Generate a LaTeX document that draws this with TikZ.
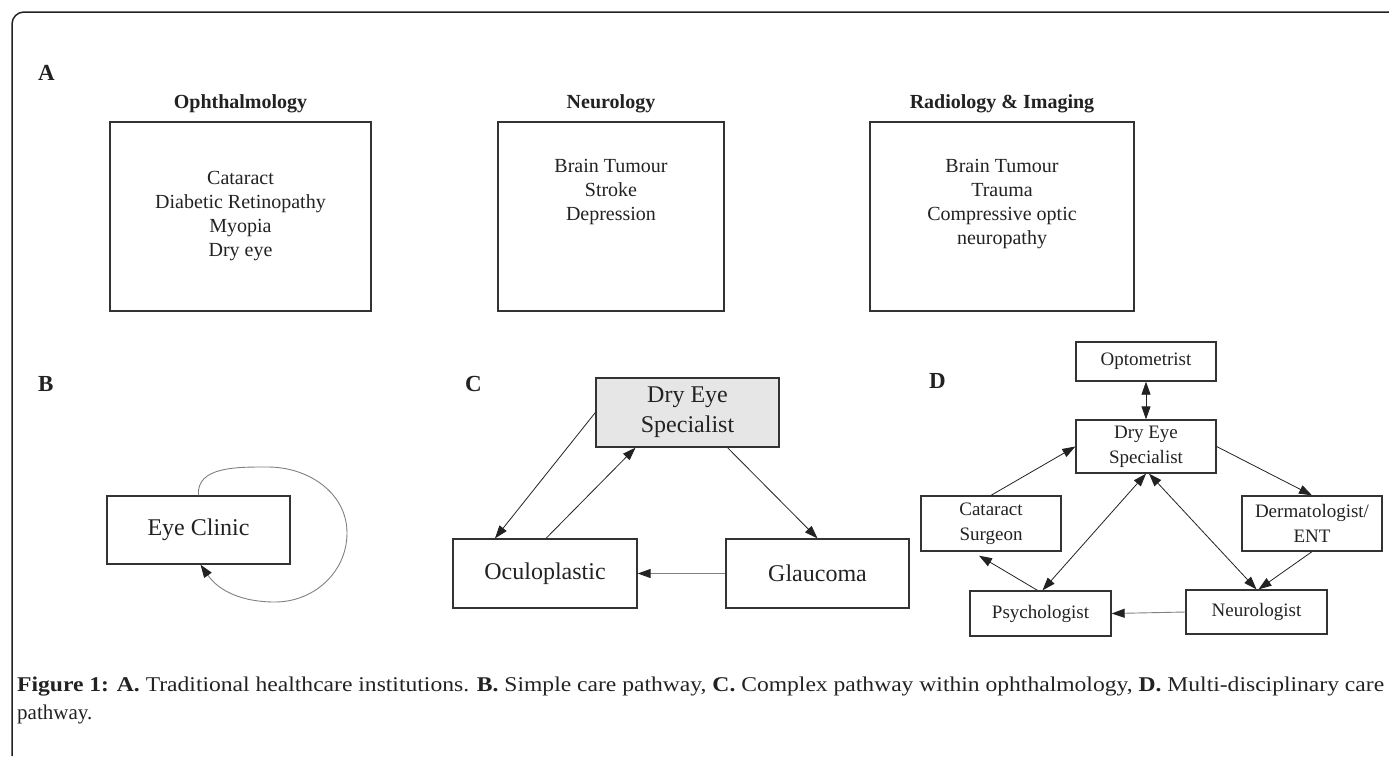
\documentclass[tikz,border=0pt]{standalone}
\usepackage{fontspec}
\setmainfont{Liberation Serif}
\usetikzlibrary{arrows.meta}
\definecolor{ink}{HTML}{222222}
\definecolor{boxline}{HTML}{333333}
\definecolor{desfill}{HTML}{E6E6E6}
\begin{document}
\begin{tikzpicture}[x=1pt,y=-1pt,
  every node/.style={text=ink},
  box/.style={draw=boxline,line width=1.3pt,inner sep=0pt,align=center},
  listtext/.style={align=center,inner sep=0pt,font=\fontsize{20}{24}\selectfont},
  heading/.style={inner sep=0pt,font=\fontsize{20}{24}\selectfont\bfseries},
  panel/.style={inner sep=0pt,font=\fontsize{23}{26}\selectfont\bfseries},
  ctext/.style={font=\fontsize{24}{30}\selectfont},
  dtext/.style={font=\fontsize{19}{25}\selectfont},
  tipA/.tip={Triangle[length=13pt,width=9pt,fill=ink,color=ink]},
  arr/.style={draw=ink,line width=0.8pt,-tipA},
  darr/.style={draw=ink,line width=0.8pt,tipA-tipA},
  garr/.style={draw=gray,line width=0.9pt,-tipA}
]
\useasboundingbox (0,0) rectangle (1389,756);
% outer frame
\draw[line width=1.5pt,draw=ink] (12,756) -- (12,24) to[out=90,in=180] (24,12) -- (1389,12);

% ---------------- Panel A
\node[panel,anchor=base west] (lA) at (38,80) {A};
\node[heading,anchor=base] (h1) at (240.5,108) {Ophthalmology};
\node[heading,anchor=base] (h2) at (611,108) {Neurology};
\node[heading,anchor=base] (h3) at (1002,108) {Radiology \& Imaging};
\node[box,minimum width=261pt,minimum height=189pt] (b1) at (240.5,216.5) {};
\node[box,minimum width=226pt,minimum height=189pt] (b2) at (611,216.5) {};
\node[box,minimum width=264pt,minimum height=189pt] (b3) at (1002,216.5) {};
\node[listtext,anchor=north] (t1) at (240.5,171) {Cataract\\Diabetic Retinopathy\\Myopia\\Dry eye};
\node[listtext,anchor=north] (t2) at (611,159) {Brain Tumour\\Stroke\\Depression};
\node[listtext,anchor=north] (t3) at (1002,159) {Brain Tumour\\Trauma\\Compressive optic\\neuropathy};

% ---------------- Panel B
\node[panel,anchor=base west] (lB) at (38,391) {B};
\node[box,ctext,minimum width=183pt,minimum height=68pt] (eye) at (198.5,530) {Eye Clinic};
\draw[garr]
  (eye.north) to[out=95,in=180] (268,467) to[out=0,in=90] (347,533)
  to[out=-90,in=0] (275,602) to[out=180,in=-55] ([xshift=2pt]eye.south);

% ---------------- Panel C
\node[panel,anchor=base west] (lC) at (465,391) {C};
\node[box,ctext,fill=desfill,minimum width=183pt,minimum height=69pt] (des) at (687.5,412.5) {Dry Eye\\Specialist};
\node[box,ctext,minimum width=184pt,minimum height=69pt] (ocu) at (545,573.5) {Oculoplastic};
\node[box,ctext,minimum width=183pt,minimum height=69pt] (gla) at (817.5,573.5) {Glaucoma};
\draw[arr] (des.west) -- ([xshift=-50pt]ocu.north);
\draw[arr] ([xshift=1pt]ocu.north) -- ([xshift=-52pt]des.south);
\draw[arr] ([xshift=40pt]des.south) -- (gla.north);
\draw[garr] (gla.west) -- (ocu.east);

% ---------------- Panel D
\node[panel,anchor=base west] (lD) at (929,388) {D};
\node[box,dtext,minimum width=140pt,minimum height=39pt] (opt) at (1146,361.5) {Optometrist};
\node[box,dtext,minimum width=140pt,minimum height=53pt] (dd) at (1146,446.5) {Dry Eye\\Specialist};
\node[box,dtext,minimum width=140pt,minimum height=55pt] (cat) at (991,523.5) {Cataract\\Surgeon};
\node[box,dtext,minimum width=140pt,minimum height=55pt] (der) at (1312,523.5) {Dermatologist/\\ENT};
\node[box,dtext,minimum width=141pt,minimum height=45pt] (psy) at (1040.5,613.5) {Psychologist};
\node[box,dtext,minimum width=141pt,minimum height=44pt] (neu) at (1256.5,612) {Neurologist};
\draw[darr] (opt.south) -- (dd.north);
\draw[arr] (cat.north) -- (dd.west);
\draw[arr] (dd.east) -- (der.north);
\draw[darr] ([xshift=2pt]psy.north) -- (dd.south);
\draw[darr] ([xshift=3pt]dd.south) -- (neu.north);
\draw[arr] (der.south) -- ([xshift=2pt]neu.north);
\draw[garr] (neu.west) -- (psy.east);
\draw[arr] ([xshift=-3pt]psy.north) -- ([xshift=-12pt,yshift=-4pt]cat.south);

% ---------------- Caption
\node[anchor=base west,inner sep=0pt,font=\fontsize{21}{28}\selectfont] (cap1) at (17,691)
  {\resizebox{1367pt}{\height}{\textbf{Figure 1: A.} Traditional healthcare institutions. \textbf{B.} Simple care pathway, \textbf{C.} Complex pathway within ophthalmology, \textbf{D.} Multi-disciplinary care}};
\node[anchor=base west,inner sep=0pt,font=\fontsize{21}{28}\selectfont] (cap2) at (17,719) {pathway.};
\end{tikzpicture}
\end{document}
